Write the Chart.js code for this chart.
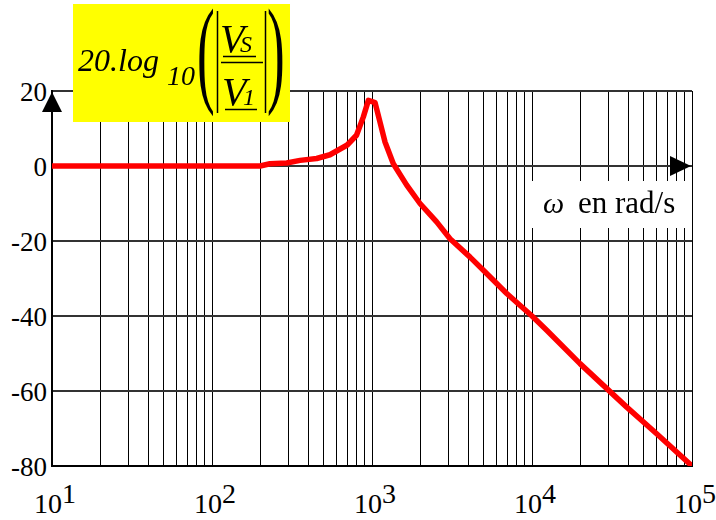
<!DOCTYPE html>
<html>
<head>
<meta charset="utf-8">
<script src="https://cdn.jsdelivr.net/npm/chart.js@4.4.1/dist/chart.umd.min.js"></script>
<style>
  body { margin: 0; background: #fff; }
  #wrap { position: relative; width: 716px; height: 520px; overflow: hidden; }
  #wrap canvas { position: relative; z-index: 1; }
  .lbl {
    position: absolute; line-height: 1; white-space: nowrap; color: #000;
    transform-origin: 0 0;
  }
  .under { z-index: 0; }
  .over { z-index: 2; }
</style>
</head>
<body>
<div id="wrap"><canvas id="bode"></canvas></div>
<script>
// pulsation (rad/s) and gain (dB)
const omega = [10, 20, 50, 100, 150, 200, 230, 293, 355, 451, 546, 700, 800, 883, 949,
               1045, 1122, 1206, 1359, 1648, 1995, 2535, 3073, 4100, 4966, 6950,
               10000, 12360, 19950, 39080, 60140, 100000];
const gainDb = [0, 0, 0, 0, 0, 0, 0.6, 0.8, 1.5, 2.0, 3.0, 5.6, 8.2, 13.1, 17.5,
                16.9, 11.7, 6.4, 0.6, -5.1, -10, -14.9, -19.4, -24.3, -27.8, -34,
                -40, -43.8, -52.7, -64.3, -71.4, -80];

const yTicks = [20, 0, -20, -40, -60, -80];
const decades = [10, 100, 1000, 10000, 100000];
const decadeExp = ['1', '2', '3', '4', '5'];
const minorMult = [1, 2, 3, 4, 5, 6, 7, 8, 9];

// one vertical grid line per 1..9 x 10^n
const gridValues = [];
decades.slice(0, -1).forEach(d => minorMult.forEach(m => gridValues.push(m * d)));
gridValues.push(decades[decades.length - 1]);

const serif = '"Liberation Serif", "DejaVu Serif", "Noto Serif", serif';
const wrap = document.getElementById('wrap');

// text goes in the DOM, positioned on its baseline
function addText(html, x, baseline, size, cls, italic, transform) {
    const el = document.createElement('span');
    el.className = 'lbl ' + cls;
    el.innerHTML = html;
    el.style.setProperty('font-family', serif, 'important');
    el.style.setProperty('font-style', italic ? 'italic' : 'normal', 'important');
    el.style.fontSize = size + 'px';
    el.style.left = x + 'px';
    el.style.top = (baseline - 0.8375 * size) + 'px';
    if (transform) el.style.transform = transform;
    wrap.appendChild(el);
    return el;
}

let labelsDone = false;

const overlay = {
    id: 'overlay',
    afterDraw(chart) {
        const ctx = chart.ctx;
        const xs = chart.scales.x;
        const ys = chart.scales.y;
        ctx.save();
        ctx.fillStyle = '#000';

        // arrow on the vertical axis
        const ax = xs.left;
        const at = ys.top + 1;
        ctx.beginPath();
        ctx.moveTo(ax, at);
        ctx.lineTo(ax - 10, at + 20);
        ctx.lineTo(ax + 10, at + 20);
        ctx.closePath();
        ctx.fill();

        // arrow on the 0 dB line
        const y0 = ys.getPixelForValue(0);
        const xr = xs.right - 1;
        ctx.beginPath();
        ctx.moveTo(xr, y0);
        ctx.lineTo(xr - 21, y0 - 10);
        ctx.lineTo(xr - 21, y0 + 10);
        ctx.closePath();
        ctx.fill();

        // white box behind the axis name
        ctx.fillStyle = '#fff';
        ctx.fillRect(526, 181, 164, 47);

        // yellow box of the formula
        ctx.fillStyle = '#ffff00';
        ctx.fillRect(73, 4, 217, 118);

        // modulus bars and fraction lines
        ctx.strokeStyle = '#000';
        ctx.lineWidth = 1.5;
        ctx.beginPath();
        ctx.moveTo(217.5, 11); ctx.lineTo(217.5, 113);
        ctx.moveTo(265.5, 11); ctx.lineTo(265.5, 113);
        ctx.moveTo(223, 56.5); ctx.lineTo(256, 56.5);
        ctx.moveTo(221, 62.5); ctx.lineTo(263, 62.5);
        ctx.moveTo(225, 109.5); ctx.lineTo(257, 109.5);
        ctx.stroke();
        ctx.restore();

        if (labelsDone) return;
        labelsDone = true;

        // y tick labels
        yTicks.forEach(v => {
            const py = ys.getPixelForValue(v);
            addText(String(v), 47, py + 11, 27, 'under', false, 'translateX(-100%)');
        });
        // x tick labels 10^n
        decades.forEach((d, i) => {
            const px = xs.getPixelForValue(d);
            addText('10<span style="position:relative;top:-10px">' + decadeExp[i] + '</span>',
                    px - 18, 513, 28, 'under', false);
        });

        // axis name
        addText('ω', 543, 213, 30, 'over', true);
        addText('en rad/s', 578, 213, 31, 'over', false);

        // 20.log10(|Vs / V1|)
        addText('20.log', 78, 71, 32, 'over', true);
        addText('10', 167, 85, 28, 'over', true);
        addText('(', 197, 92, 118, 'over', false, 'scaleX(0.45)');
        addText(')', 267, 92, 118, 'over', false, 'scaleX(0.45)');
        addText('V', 220, 52, 40, 'over', true);
        addText('S', 240, 52, 24, 'over', true);
        addText('V', 222, 105, 40, 'over', true);
        addText('1', 243, 105, 24, 'over', true);
    }
};

const ctx = document.getElementById('bode').getContext('2d');
const bodeChart = new Chart(ctx, {
    type: 'line',
    data: {
        datasets: [{
            data: omega.map((w, i) => ({ x: w, y: gainDb[i] })),
            borderColor: '#ff0000',
            borderWidth: 5.5,
            pointRadius: 0,
            tension: 0,
            borderJoinStyle: 'round',
            borderCapStyle: 'round'
        }]
    },
    options: {
        responsive: true,
        maintainAspectRatio: false,
        animation: false,
        events: [],
        layout: { padding: { top: 91, right: 24, left: 0, bottom: 0 } },
        plugins: { legend: { display: false }, tooltip: { enabled: false } },
        scales: {
            x: {
                type: 'logarithmic',
                min: 10,
                max: 100000,
                afterBuildTicks: scale => { scale.ticks = gridValues.map(v => ({ value: v })); },
                afterFit: scale => { scale.height = 54; },
                ticks: { display: false },
                grid: { color: '#000', lineWidth: 1, drawTicks: false },
                border: { display: true, color: '#000', width: 2 }
            },
            y: {
                min: -80,
                max: 20,
                afterBuildTicks: scale => { scale.ticks = yTicks.map(v => ({ value: v })); },
                afterFit: scale => { scale.width = 52; },
                ticks: { display: false },
                grid: { color: '#333', lineWidth: 2, drawTicks: false },
                border: { display: true, color: '#000', width: 2 }
            }
        }
    },
    plugins: [overlay]
});
</script>
</body>
</html>
